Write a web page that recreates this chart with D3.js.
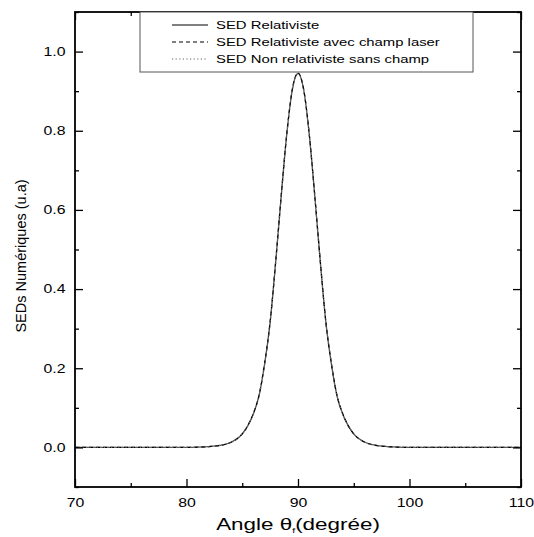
<!DOCTYPE html>
<html>
<head>
<meta charset="utf-8">
<script src="https://cdn.jsdelivr.net/npm/d3@7"></script>
<style>
  html, body { margin: 0; padding: 0; background: #fff; }
  svg { display: block; font-family: "Liberation Sans", Arial, sans-serif; }
</style>
</head>
<body>
<svg id="chart" width="534" height="537"></svg>
<script>
// ---- data ----
const angles = [70, 80, 81, 82, 83, 84, 85, 85.5, 86, 86.5, 87, 87.5, 88, 88.5, 89, 89.5, 90,
                90.5, 91, 91.5, 92, 92.5, 93, 93.5, 94, 94.5, 95, 96, 97, 98, 99, 100, 110];
const sedRelativiste = [0, 0, 0.0005, 0.002, 0.005, 0.013, 0.034, 0.055, 0.085, 0.13, 0.21, 0.316, 0.469, 0.637, 0.793, 0.905, 0.945,
                        0.905, 0.793, 0.637, 0.469, 0.316, 0.21, 0.13, 0.085, 0.055, 0.034, 0.013, 0.005, 0.002, 0.0005, 0, 0];
const sedRelativisteLaser = [0, 0, 0.0005, 0.002, 0.005, 0.013, 0.034, 0.055, 0.086, 0.131, 0.211, 0.317, 0.47, 0.638, 0.794, 0.906, 0.946,
                        0.906, 0.794, 0.638, 0.47, 0.317, 0.211, 0.131, 0.086, 0.055, 0.034, 0.013, 0.005, 0.002, 0.0005, 0, 0];
const sedNonRelativiste = [0, 0, 0.0005, 0.002, 0.005, 0.013, 0.034, 0.055, 0.085, 0.13, 0.21, 0.316, 0.468, 0.636, 0.792, 0.904, 0.944,
                        0.904, 0.792, 0.636, 0.468, 0.316, 0.21, 0.13, 0.085, 0.055, 0.034, 0.013, 0.005, 0.002, 0.0005, 0, 0];
const seriesNames = ["SED Relativiste", "SED Relativiste avec champ laser", "SED Non relativiste sans champ"];
const xTicks = [70, 80, 90, 100, 110];
const yTicks = [0.0, 0.2, 0.4, 0.6, 0.8, 1.0];
const xTitle = "Angle θ";
const xTitleSub = "f";
const xTitleEnd = "(degrée)";
const yTitle = "SEDs Numériques (u.a)";

// ---- layout ----
const svg = d3.select("#chart");
const L = 75, R = 521, T = 12, B = 487;
const SX = 1.32; // horizontal stretch of the text glyphs seen in the reference
const x = d3.scaleLinear().domain([70, 110]).range([L, R]);
const y = d3.scaleLinear().domain([-0.1, 1.1]).range([B, T]);

const styles = [
  { stroke: "#555", dash: null, width: 1.3 },
  { stroke: "#000", dash: "4,3", width: 1.2 },
  { stroke: "#666", dash: "1.2,2.4", width: 1.2 }
];
const allSeries = [sedRelativiste, sedRelativisteLaser, sedNonRelativiste];

const line = d3.line().x(d => x(d[0])).y(d => y(d[1])).curve(d3.curveMonotoneX);

svg.append("defs").append("clipPath").attr("id", "clip")
  .append("rect").attr("x", L).attr("y", T).attr("width", R - L).attr("height", B - T);

const plot = svg.append("g").attr("clip-path", "url(#clip)");
allSeries.forEach((vals, i) => {
  plot.append("path")
    .datum(angles.map((a, j) => [a, vals[j]]))
    .attr("fill", "none")
    .attr("stroke", styles[i].stroke)
    .attr("stroke-width", styles[i].width)
    .attr("stroke-dasharray", styles[i].dash)
    .attr("d", line);
});

// ---- axes (ticks inward on all four sides) ----
const xMinor = d3.range(75, 110, 10);
const yMinor = d3.range(-0.1, 1.11, 0.2).map(v => +v.toFixed(2));

const gBottom = svg.append("g").attr("transform", `translate(0,${B})`)
  .call(d3.axisBottom(x).tickValues(xTicks).tickSize(-8).tickPadding(11).tickFormat(d3.format("d")));
gBottom.append("g").call(d3.axisBottom(x).tickValues(xMinor).tickSize(-4).tickFormat(""));
const gTop = svg.append("g").attr("transform", `translate(0,${T})`)
  .call(d3.axisTop(x).tickValues(xTicks).tickSize(-8).tickFormat(""));
gTop.append("g").call(d3.axisTop(x).tickValues(xMinor).tickSize(-4).tickFormat(""));
const gLeft = svg.append("g").attr("transform", `translate(${L},0)`)
  .call(d3.axisLeft(y).tickValues(yTicks).tickSize(-8).tickPadding(10).tickFormat(d3.format(".1f")));
gLeft.append("g").call(d3.axisLeft(y).tickValues(yMinor).tickSize(-4).tickFormat(""));
const gRight = svg.append("g").attr("transform", `translate(${R},0)`)
  .call(d3.axisRight(y).tickValues(yTicks).tickSize(-8).tickFormat(""));
gRight.append("g").call(d3.axisRight(y).tickValues(yMinor).tickSize(-4).tickFormat(""));

svg.selectAll(".domain").remove();
svg.selectAll(".tick line").attr("stroke", "#000").attr("stroke-width", 1.3);
svg.selectAll(".tick text").attr("font-size", 12).attr("fill", "#000")
  .attr("font-family", "'Liberation Sans', Arial, sans-serif");
gBottom.selectAll(".tick text").attr("transform", `scale(${SX},1)`);
gLeft.selectAll(".tick text").attr("x", 0).attr("transform", `translate(-9.5,0) scale(${SX},1)`);

svg.append("rect").attr("x", L).attr("y", T).attr("width", R - L).attr("height", B - T)
  .attr("fill", "none").attr("stroke", "#000").attr("stroke-width", 1.8);

// ---- titles ----
const xt = svg.append("g").attr("transform", `translate(298,530) scale(${SX},1)`)
  .append("text").attr("x", 0).attr("y", 0).attr("text-anchor", "middle")
  .attr("font-size", 17).attr("fill", "#000");
xt.append("tspan").text(xTitle);
xt.append("tspan").attr("font-size", 8).attr("dy", 3).text(xTitleSub);
xt.append("tspan").attr("dy", -3).text(xTitleEnd);

svg.append("text").attr("transform", "translate(26,256) rotate(-90)")
  .attr("text-anchor", "middle").attr("font-size", 14.5).attr("fill", "#000").text(yTitle);

// ---- legend ----
const lg = svg.append("g");
lg.append("rect").attr("x", 140).attr("y", T).attr("width", 333).attr("height", 60)
  .attr("fill", "#fff").attr("stroke", "#555").attr("stroke-width", 1);
const rowsY = [25, 42, 59];
seriesNames.forEach((name, i) => {
  lg.append("line").attr("x1", 172).attr("x2", 208).attr("y1", rowsY[i]).attr("y2", rowsY[i])
    .attr("stroke", styles[i].stroke).attr("stroke-width", styles[i].width)
    .attr("stroke-dasharray", styles[i].dash);
  lg.append("g").attr("transform", `translate(216,${rowsY[i] + 4.2}) scale(${SX * 0.98},1)`)
    .append("text").attr("x", 0).attr("y", 0).attr("font-size", 11.5)
    .attr("fill", "#000").text(name);
});
</script>
</body>
</html>
